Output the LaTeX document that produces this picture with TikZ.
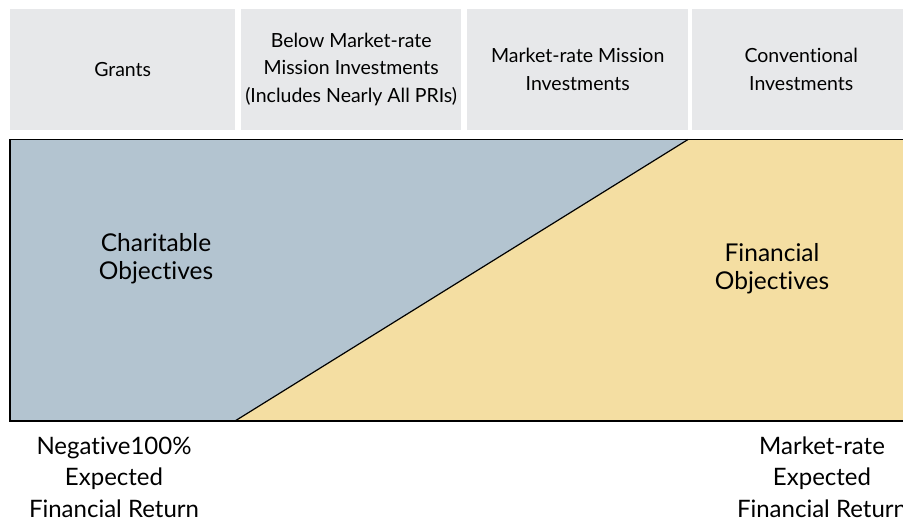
\documentclass[tikz,border=0pt]{standalone}
\usepackage{fontspec}
\setmainfont{Lato}[Ligatures=NoCommon]
\definecolor{hdrgrey}{RGB}{231,232,234}
\definecolor{charblue}{RGB}{179,196,208}
\definecolor{finyellow}{RGB}{244,222,162}
\tikzset{
  hdrbox/.style={fill=hdrgrey, anchor=north west, minimum height=120.5pt, inner sep=0pt,
    align=center, font=\fontsize{19.5}{27.5}\selectfont},
  zonetext/.style={align=center, font=\fontsize{24.5}{28}\selectfont},
  axistext/.style={align=center, font=\fontsize{24}{31.5}\selectfont}
}
\begin{document}
\begin{tikzpicture}[x=1pt,y=-1pt]
    \useasboundingbox (0,0) rectangle (903,521);
    \clip (0,0) rectangle (903,521);
    % column headers
    \node[hdrbox, minimum width=225pt] (grants) at (10,9) {Grants};
    \node[hdrbox, minimum width=220pt] (belowmkt) at (241,9) {Below Market-rate\\Mission Investments\\(Includes Nearly All PRIs)};
    \node[hdrbox, minimum width=221pt] (mktmission) at (467,9) {Market-rate Mission\\Investments};
    \node[hdrbox, minimum width=218pt] (conventional) at (692,9) {Conventional\\Investments};
    % objective regions
    \coordinate (lowend) at (235,421);
    \coordinate (highend) at (688,139.5);
    \fill[charblue] (10,139.5) rectangle (920,421);
    \fill[finyellow] (lowend) -- (highend) -- (920,139.5) -- (920,421) -- cycle;
    \draw[line width=1.5pt] (920,139.5) -- (10,139.5) -- (10,421) -- (920,421);
    \draw[line width=1.2pt] (lowend) -- (highend);
    \node[zonetext] (charitable) at (156,259) {Charitable\\Objectives};
    \node[zonetext] (financial) at (772,269) {Financial\\Objectives};
    % return scale
    \node[axistext] (negative) at (114,477) {Negative100\%\\Expected\\Financial Return};
    \node[axistext] (marketrate) at (822,477) {Market-rate\\Expected\\Financial Return};
\end{tikzpicture}
\end{document}
